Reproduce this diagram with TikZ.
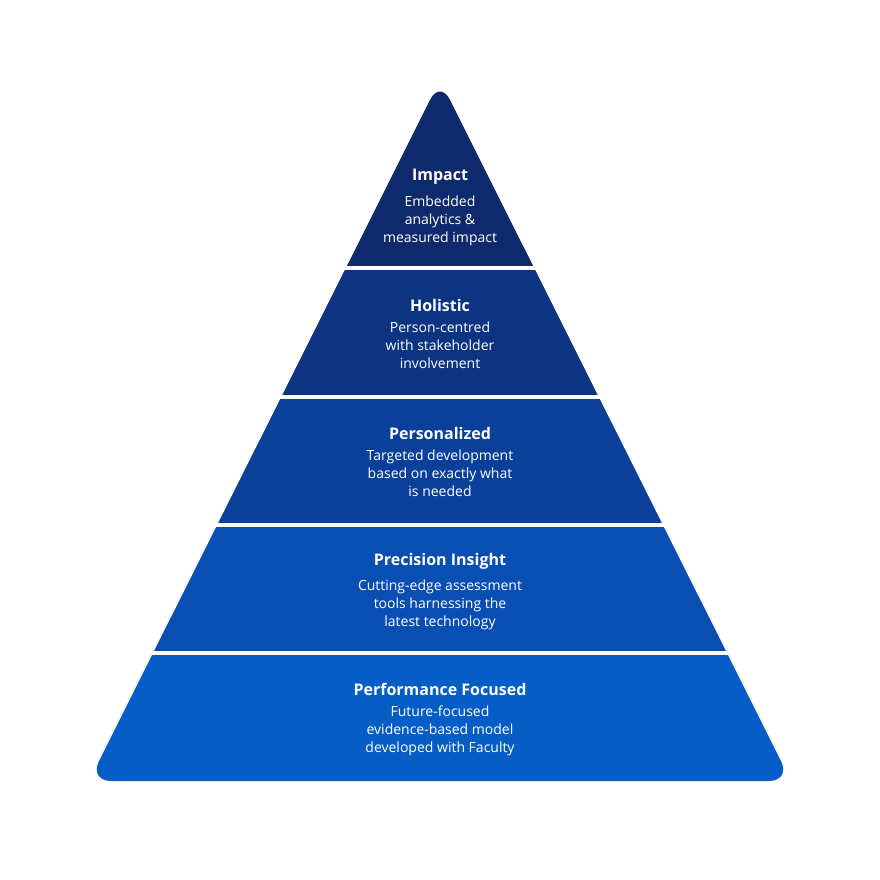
\documentclass[tikz,border=0pt]{standalone}
\usepackage{fontspec}
\setmainfont{Open Sans}
\usetikzlibrary{positioning}
\definecolor{tierA}{HTML}{0F2A6C}
\definecolor{tierB}{HTML}{0D3482}
\definecolor{tierC}{HTML}{0B409A}
\definecolor{tierD}{HTML}{094EB2}
\definecolor{tierE}{HTML}{075DC6}
\begin{document}
\begin{tikzpicture}[
    x=1pt, y=-1pt,
    title/.style={text=white, font=\fontsize{16}{18}\selectfont\bfseries},
    body/.style={text=white, align=center, font=\fontsize{14}{18}\selectfont}
]
    \useasboundingbox (0,0) rectangle (880,880);
    % Tiers
    \foreach \top/\bot/\col in {0/268/tierA, 268/397/tierB, 397/525/tierC, 525/653/tierD, 653/900/tierE} {
        \begin{scope}
            \clip (0,\top) rectangle (880,\bot);
            \fill[\col, rounded corners=22] (440,80) -- (791,781) -- (89,781) -- cycle;
        \end{scope}
    }
    % Gaps
    \foreach \y in {268, 397, 525, 653}
        \draw[white, line width=4] (80,\y) -- (800,\y);
    % Labels
    \node[title] (impact) at (440,177) {Impact};
    \node[body, below=4pt of impact] (impacttxt) {Embedded\\analytics \&\\measured impact};
    \node[title] (holistic) at (440,305) {Holistic};
    \node[body, below=4pt of holistic] (holistictxt) {Person-centred\\with stakeholder\\involvement};
    \node[title] (personal) at (440,433) {Personalized};
    \node[body, below=4pt of personal] (personaltxt) {Targeted development\\based on exactly what\\is needed};
    \node[title] (precision) at (440,561) {Precision Insight};
    \node[body, below=4pt of precision] (precisiontxt) {Cutting-edge assessment\\tools harnessing the\\latest technology};
    \node[title] (perform) at (440,689) {Performance Focused};
    \node[body, below=4pt of perform] (performtxt) {Future-focused\\evidence-based model\\developed with Faculty};
\end{tikzpicture}
\end{document}
